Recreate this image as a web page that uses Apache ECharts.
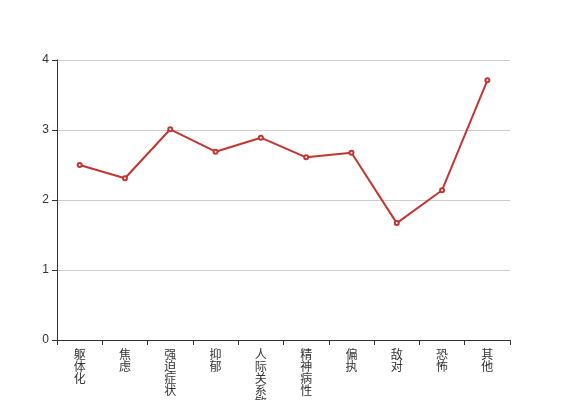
<!DOCTYPE html>
<html><head><meta charset="utf-8">
<script src="https://cdn.jsdelivr.net/npm/echarts@6/dist/echarts.min.js"></script>
<style>html,body{margin:0;padding:0;background:#fff}#c{width:567px;height:400px}</style>
</head><body><div id="c"></div>
<script>
var categories = ['躯体化','焦虑','强迫症状','抑郁','人际关系敏感','精神病性','偏执','敌对','恐怖','其他'];
var values = [2.5, 2.31, 3.01, 2.69, 2.89, 2.61, 2.675, 1.67, 2.14, 3.71];
var yTicks = [0, 1, 2, 3, 4];
var chart = echarts.init(document.getElementById('c'));
chart.setOption({
  animation: false,
  grid: {left: 57, right: 57, top: 60, bottom: 60, containLabel: false, outerBoundsMode: 'none'},
  xAxis: {
    type: 'category', data: categories, boundaryGap: true,
    axisLine: {lineStyle: {color: '#333'}},
    axisTick: {show: true, length: 5, lineStyle: {color: '#333'}},
    axisLabel: {color: '#333', fontSize: 12, lineHeight: 12, interval: 0, margin: 8,
      fontFamily: 'Noto Sans CJK SC',
      formatter: function (v) { return v.split('').join('\n'); }}
  },
  yAxis: {
    type: 'value', min: yTicks[0], max: yTicks[yTicks.length-1], interval: 1,
    axisLine: {show: true, lineStyle: {color: '#333'}},
    axisTick: {show: true, length: 5, lineStyle: {color: '#333'}},
    axisLabel: {color: '#333', fontSize: 12},
    splitLine: {lineStyle: {color: '#ccc'}}
  },
  series: [{
    type: 'line', data: values, symbol: 'emptyCircle', symbolSize: 4,
    itemStyle: {color: '#c23531'}, lineStyle: {color: '#c23531', width: 2}
  }]
});
</script></body></html>
